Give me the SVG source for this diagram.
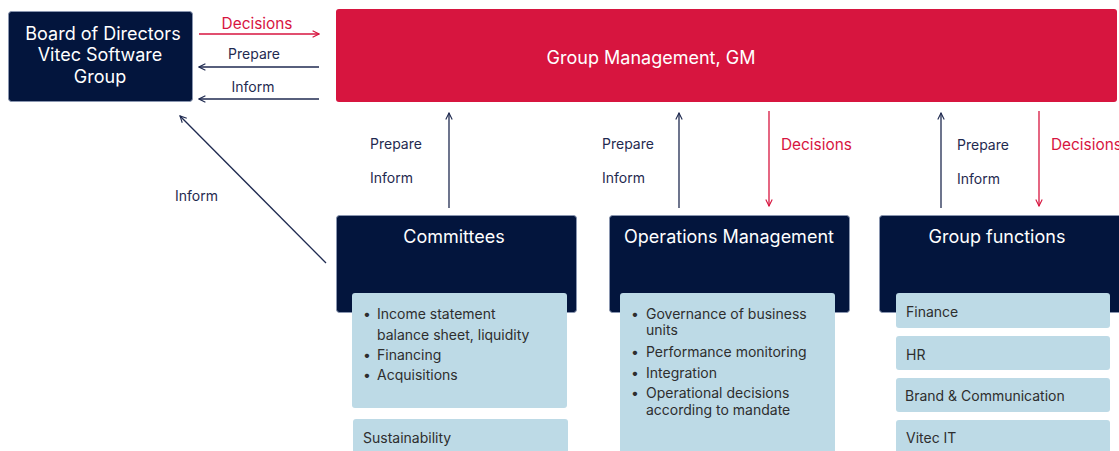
<svg xmlns="http://www.w3.org/2000/svg" width="1119" height="451" viewBox="0 0 1119 451">
  <style>
    .dark { fill: #03153d; stroke: #8a96b0; stroke-width: 1; }
    .gm { fill: #d7153f; }
    .item { fill: #bddae6; }
    .t { font-family: Inter, "Liberation Sans", sans-serif; }
    .title { fill: #ffffff; font-size: 18px; text-anchor: middle; }
    .txt { fill: #2e2e2e; font-size: 14px; }
    .lbl { fill: #1f2a50; font-size: 14px; }
    .lblr { fill: #d7153f; font-size: 15.4px; }
    .nav { stroke: #1f2a50; stroke-width: 1.3; fill: none; marker-end: url(#hN); }
    .red { stroke: #d7153f; stroke-width: 1.3; fill: none; marker-end: url(#hR); }
  </style>
  <defs>
    <marker id="hN" viewBox="0 0 10 10" refX="9" refY="5" markerWidth="8" markerHeight="8" markerUnits="userSpaceOnUse" orient="auto">
      <path d="M1,1 L9,5 L1,9" fill="none" stroke="#1f2a50" stroke-width="1.4"/>
    </marker>
    <marker id="hR" viewBox="0 0 10 10" refX="9" refY="5" markerWidth="8" markerHeight="8" markerUnits="userSpaceOnUse" orient="auto">
      <path d="M1,1 L9,5 L1,9" fill="none" stroke="#d7153f" stroke-width="1.4"/>
    </marker>
  </defs>
  <rect width="1119" height="451" fill="#ffffff"/>

  <!-- connectors -->
  <g id="connectors">
    <line class="red" x1="199" y1="34" x2="319" y2="34"/>
    <line class="nav" x1="319" y1="67" x2="199" y2="67"/>
    <line class="nav" x1="319" y1="99" x2="199" y2="99"/>
    <line class="nav" x1="326" y1="263" x2="180" y2="116"/>
    <line class="nav" x1="449" y1="208" x2="449" y2="113"/>
    <line class="nav" x1="679" y1="208" x2="679" y2="113"/>
    <line class="red" x1="769" y1="111" x2="769" y2="206"/>
    <line class="nav" x1="941" y1="208" x2="941" y2="113"/>
    <line class="red" x1="1039" y1="111" x2="1039" y2="206"/>

    <text class="t lblr" x="257" y="29" text-anchor="middle">Decisions</text>
    <text class="t lbl" x="254" y="59" text-anchor="middle">Prepare</text>
    <text class="t lbl" x="253" y="92" text-anchor="middle">Inform</text>
    <text class="t lbl" x="175" y="201">Inform</text>

    <text class="t lbl" x="370" y="149">Prepare</text>
    <text class="t lbl" x="370" y="183">Inform</text>
    <text class="t lbl" x="602" y="149">Prepare</text>
    <text class="t lbl" x="602" y="183">Inform</text>
    <text class="t lblr" x="781" y="150">Decisions</text>
    <text class="t lbl" x="957" y="150">Prepare</text>
    <text class="t lbl" x="957" y="184">Inform</text>
    <text class="t lblr" x="1051" y="150">Decisions</text>
  </g>

  <!-- board -->
  <g id="board">
    <rect class="dark" x="8.5" y="11.5" width="184" height="90" rx="3"/>
    <text class="t title" x="103" y="40">Board of Directors</text>
    <text class="t title" x="100" y="61">Vitec Software</text>
    <text class="t title" x="100" y="83">Group</text>
  </g>

  <!-- group management -->
  <g id="group-management">
    <rect class="gm" x="336" y="9" width="781" height="93" rx="3"/>
    <text class="t title" x="651" y="64" font-size="17">Group Management, GM</text>
  </g>

  <!-- committees -->
  <g id="committees">
    <rect class="dark" x="336.5" y="215.5" width="240" height="97" rx="3"/>
    <text class="t title" x="454" y="243">Committees</text>
    <rect class="item" x="352" y="293" width="215" height="115" rx="3"/>
    <g class="t txt">
      <text x="363" y="319">•</text><text x="377" y="319">Income statement</text>
      <text x="377" y="340">balance sheet, liquidity</text>
      <text x="363" y="360">•</text><text x="377" y="360">Financing</text>
      <text x="363" y="380">•</text><text x="377" y="380">Acquisitions</text>
    </g>
  </g>
  <g id="sustainability">
    <rect class="item" x="353" y="419" width="215" height="40" rx="3"/>
    <text class="t txt" x="363" y="443">Sustainability</text>
  </g>

  <!-- operations management -->
  <g id="operations">
    <rect class="dark" x="609.5" y="215.5" width="240" height="97" rx="3"/>
    <text class="t title" x="729" y="243">Operations Management</text>
    <rect class="item" x="620" y="293" width="215" height="170" rx="3"/>
    <g class="t txt">
      <text x="631" y="319">•</text><text x="646" y="319">Governance of business</text>
      <text x="646" y="335">units</text>
      <text x="631" y="357">•</text><text x="646" y="357">Performance monitoring</text>
      <text x="631" y="378">•</text><text x="646" y="378">Integration</text>
      <text x="631" y="398">•</text><text x="646" y="398">Operational decisions</text>
      <text x="646" y="415">according to mandate</text>
    </g>
  </g>

  <!-- group functions -->
  <g id="group-functions">
    <rect class="dark" x="879.5" y="215.5" width="245" height="97" rx="3"/>
    <text class="t title" x="997" y="243">Group functions</text>
  </g>
  <g id="finance">
    <rect class="item" x="896" y="293" width="214" height="35" rx="3"/>
    <text class="t txt" x="906" y="317">Finance</text>
  </g>
  <g id="hr">
    <rect class="item" x="896" y="336" width="214" height="34" rx="3"/>
    <text class="t txt" x="906" y="360">HR</text>
  </g>
  <g id="brand">
    <rect class="item" x="896" y="378" width="214" height="34" rx="3"/>
    <text class="t txt" x="905" y="401">Brand &amp; Communication</text>
  </g>
  <g id="vitec-it">
    <rect class="item" x="896" y="420" width="214" height="40" rx="3"/>
    <text class="t txt" x="906" y="443">Vitec IT</text>
  </g>
</svg>
